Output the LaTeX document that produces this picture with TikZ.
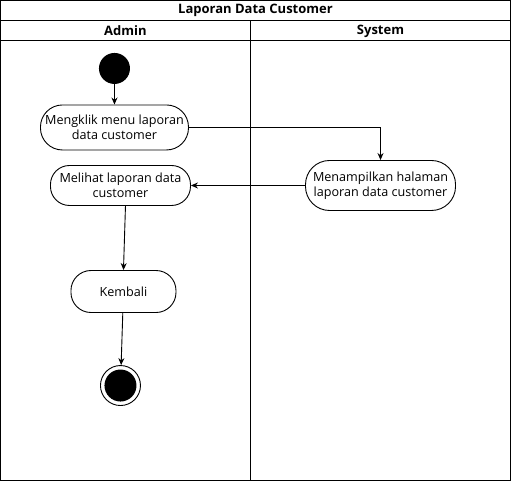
\documentclass[tikz,border=0pt]{standalone}
\usepackage{fontspec}
\setmainfont{Open Sans}
\usetikzlibrary{arrows.meta}

\tikzset{
  aksi/.style={draw, line width=0.9pt, align=center, inner sep=0pt,
    font=\fontsize{12.6}{14.5}\selectfont},
  fleche/.style={-{Stealth[length=7pt,width=6pt]}, line width=0.9pt},
  entete/.style={font=\bfseries\fontsize{13}{15}\selectfont}
}

\begin{document}
\begin{tikzpicture}[x=1pt,y=-1pt]

      %bordure
      \draw[line width=0.9pt] (0,0) rectangle (510,480);
      %lignes internes
      \draw[line width=0.9pt] (0,20)--(510,20);
      \draw[line width=0.9pt] (0,40)--(510,40);
      \draw[line width=0.9pt] (250,20)--(250,480);

      \node[entete] (judul) at (255,10) {Laporan Data Customer};
      \node[entete] (admin) at (125,30.5) {Admin};
      \node[entete] (sistem) at (380,30.5) {System};

      \node[circle, fill=black, minimum size=31pt, inner sep=0pt] (mulai) at (114,68) {};
      \node[aksi, minimum width=148pt, minimum height=45pt, rounded corners=22pt] (klik) at (114,127) {Mengklik menu laporan\\data customer};
      \node[aksi, minimum width=150pt, minimum height=50pt, rounded corners=24pt] (tampil) at (380,185) {Menampilkan halaman\\laporan data customer};
      \node[aksi, minimum width=140pt, minimum height=40pt, rounded corners=19pt] (lihat) at (120,185) {Melihat laporan data\\customer};
      \node[aksi, minimum width=105pt, minimum height=42pt, rounded corners=20pt] (kembali) at (123,291) {Kembali};
      \node[circle, draw, line width=0.9pt, minimum size=40pt, inner sep=0pt] (selesai) at (120,385) {};
      \node[circle, fill=black, minimum size=32pt, inner sep=0pt] at (selesai) {};

      \draw[fleche] (mulai) -- (klik);
      \draw[fleche] (klik.east) -| (tampil.north);
      \draw[fleche] (tampil.west) -- (lihat.east);
      \draw[fleche] (lihat.south -| 125,0) -- (kembali.north);
      \draw[fleche] (kembali) -- (selesai);
    \end{tikzpicture}
\end{document}
